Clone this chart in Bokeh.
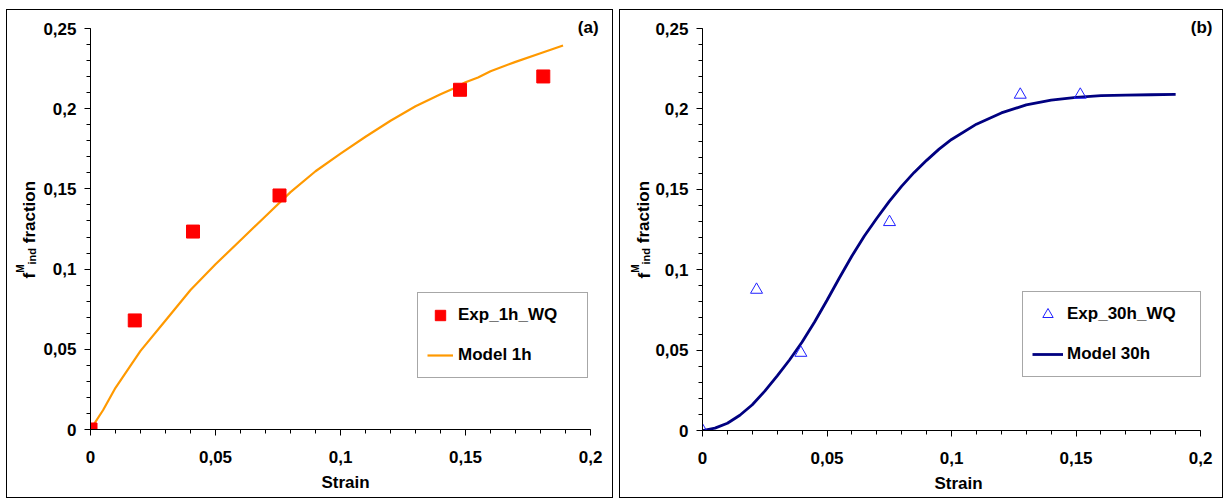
import math
from bokeh.plotting import figure
from bokeh.layouts import row
from bokeh.models import Range1d, FixedTicker, Legend, LegendItem, Label
from bokeh.embed import file_html
from bokeh.resources import INLINE

# ---------------- data ----------------
exp_1h_x = [0.0, 0.0177, 0.041, 0.0756, 0.1478, 0.1811]
exp_1h_y = [0.0, 0.068, 0.1234, 0.1459, 0.2118, 0.2201]

model_1h_x = [0.0, 0.005, 0.01, 0.02, 0.03, 0.04, 0.05, 0.06, 0.07, 0.08, 0.09,
              0.1, 0.11, 0.12, 0.13, 0.14, 0.145, 0.15, 0.155, 0.16, 0.17, 0.18, 0.189]
model_1h_y = [0.0, 0.012, 0.026, 0.049, 0.068, 0.087, 0.103, 0.118, 0.133, 0.148, 0.161,
              0.172, 0.1825, 0.1925, 0.2015, 0.209, 0.2125, 0.2165, 0.2195, 0.2234, 0.2292, 0.2346, 0.2394]

exp_30h_x = [0.0, 0.0217, 0.0395, 0.0751, 0.1276, 0.1517]
exp_30h_y = [0.0, 0.0875, 0.0483, 0.1296, 0.2088, 0.2088]

model_30h_x = [0.0, 0.005, 0.01, 0.015, 0.02, 0.025, 0.03, 0.035, 0.04, 0.045, 0.05,
               0.055, 0.06, 0.065, 0.07, 0.075, 0.08, 0.085, 0.09, 0.095, 0.1,
               0.11, 0.12, 0.13, 0.14, 0.15, 0.16, 0.17, 0.18, 0.19]
model_30h_y = [0.0, 0.0015, 0.0045, 0.0095, 0.016, 0.0245, 0.034, 0.044, 0.055, 0.0675, 0.081,
               0.095, 0.1085, 0.121, 0.132, 0.1425, 0.152, 0.1605, 0.168, 0.175, 0.181,
               0.1905, 0.1975, 0.2025, 0.2055, 0.2072, 0.2082, 0.2086, 0.2088, 0.209]

x_ticks = [0.0, 0.05, 0.1, 0.15, 0.2]
x_tick_labels = ["0", "0,05", "0,1", "0,15", "0,2"]
y_ticks = [0.0, 0.05, 0.1, 0.15, 0.2, 0.25]
y_tick_labels = ["0", "0,05", "0,1", "0,15", "0,2", "0,25"]
x_minor = [i / 100 for i in range(0, 21)]
y_minor = [i / 100 for i in range(0, 26)]

y_label_parts = ["f", "M", "ind", "fraction"]

FONT = "Liberation Sans"
CANVAS_H = 487
BORDER_TOP = 8


def label_column(width, base_x):
    """Narrow figure that carries the rotated y-axis title f^M_ind fraction."""
    q = figure(width=width, height=CANVAS_H, x_range=Range1d(0, width),
               y_range=Range1d(0, CANVAS_H), x_axis_type=None, y_axis_type=None,
               min_border=0, output_backend="svg", toolbar_location=None,
               frame_align=False)
    q.outline_line_color = None
    q.background_fill_color = "white"
    q.border_fill_color = "white"
    q.grid.visible = False
    # (text, font size, centre offset across, centre px from top of canvas)
    specs = [(y_label_parts[0], "17px", 0.0, 265.2),
             (y_label_parts[1], "10px", -9.0, 258.1),
             (y_label_parts[2], "11px", 2.0, 245.8),
             (y_label_parts[3], "17px", -0.5, 201.6)]
    for txt, fs, ddx, py in specs:
        q.add_layout(Label(x=base_x + ddx, y=CANVAS_H - py, text=txt,
                           angle=math.pi / 2, text_align="center",
                           text_baseline="middle", text_font=FONT,
                           text_font_style="bold", text_font_size=fs,
                           text_color="black"))
    return q


def make_panel(width, border_left, frame_w, frame_h, x_end, y_end,
               ex_x, ex_y, mx, my, marker, marker_kw, line_color, line_w,
               labels, legend_loc, glyph_w, label_w, label_standoff, tag, tag_x):
    p = figure(width=width, height=CANVAS_H,
               x_range=Range1d(0.0, x_end), y_range=Range1d(0.0, y_end),
               output_backend="svg", toolbar_location=None, frame_align=False,
               min_border_left=border_left,
               min_border_right=width - border_left - frame_w,
               min_border_top=BORDER_TOP,
               min_border_bottom=CANVAS_H - BORDER_TOP - frame_h)
    p.background_fill_color = "white"
    p.border_fill_color = "white"
    p.outline_line_color = None
    p.xgrid.visible = False
    p.ygrid.visible = False

    for ax in (p.xaxis[0], p.yaxis[0]):
        ax.axis_line_color = "black"
        ax.axis_line_width = 1
        ax.major_tick_line_color = "black"
        ax.minor_tick_line_color = "black"
        ax.major_tick_in = 0
        ax.minor_tick_in = 0
        ax.major_tick_out = 6
        ax.minor_tick_out = 4
        ax.major_label_text_font = FONT
        ax.major_label_text_font_style = "bold"
        ax.major_label_text_font_size = "17px"
        ax.major_label_text_color = "black"
        ax.axis_label_text_font = FONT
        ax.axis_label_text_font_style = "bold"
        ax.axis_label_text_font_size = "17px"
        ax.axis_label_text_color = "black"

    xa = p.xaxis[0]
    xa.ticker = FixedTicker(ticks=x_ticks, minor_ticks=x_minor)
    xa.major_label_overrides = dict(zip(x_ticks, x_tick_labels))
    xa.bounds = (0.0, 0.2)
    xa.major_label_standoff = 15
    xa.axis_label = "Strain"
    xa.axis_label_standoff = 7

    ya = p.yaxis[0]
    ya.ticker = FixedTicker(ticks=y_ticks, minor_ticks=y_minor)
    ya.major_label_overrides = dict(zip(y_ticks, y_tick_labels))
    ya.bounds = (0.0, 0.25)
    ya.major_label_standoff = 8

    r_line = p.line(mx, my, line_color=line_color, line_width=line_w)
    r_pts = p.scatter(ex_x, ex_y, marker=marker, **marker_kw)

    legend = Legend(items=[LegendItem(label=labels[0], renderers=[r_pts]),
                           LegendItem(label=labels[1], renderers=[r_line])],
                    location=legend_loc, padding=9, spacing=14,
                    glyph_width=glyph_w, glyph_height=26, label_height=26,
                    label_width=label_w, label_standoff=label_standoff,
                    label_text_font=FONT, label_text_font_style="bold",
                    label_text_font_size="17px", label_text_color="black",
                    border_line_color="#505050", border_line_width=1,
                    background_fill_color="white", background_fill_alpha=1.0,
                    margin=0)
    p.add_layout(legend)

    sy = frame_h / y_end
    p.add_layout(Label(x=tag_x, y=0.25 + 1.0 / sy, text=tag, text_align="right",
                       text_baseline="middle", text_font=FONT, text_font_style="bold",
                       text_font_size="17px", text_color="black"))
    return p


# left panel (a)
lab1 = label_column(33, 22.0)
p1 = make_panel(572, 48, 512, 411, 512 / 2510.0, 0.25 + 10 / 1604.0,
                exp_1h_x, exp_1h_y, model_1h_x, model_1h_y, "square",
                dict(size=13, fill_color="#FF0000", line_color="#FF0000"),
                "#FF9900", 2.2, ["Exp_1h_WQ", "Model 1h"], (327, 51), 26, 120, 5,
                "(a)", 0.2032)

# right panel (b)
lab2 = label_column(32, 23.5)
p2 = make_panel(570, 48, 514, 412, 514 / 2500.0, 0.25 + 10 / 1608.0,
                exp_30h_x, exp_30h_y, model_30h_x, model_30h_y, "triangle",
                dict(size=12, fill_color=None, line_color="#2020FF", line_width=1),
                "#000080", 2.8, ["Exp_30h_WQ", "Model 30h"], (320, 53), 31, 124, 4,
                "(b)", 0.2048)

box1 = row(lab1, p1, styles={"border": "1px solid black"})
box2 = row(lab2, p2, styles={"border": "1px solid black"})
layout = row(box1, box2, spacing=6, margin=(9, 0, 0, 6))

open("out.html", "w").write(file_html(layout, INLINE))
